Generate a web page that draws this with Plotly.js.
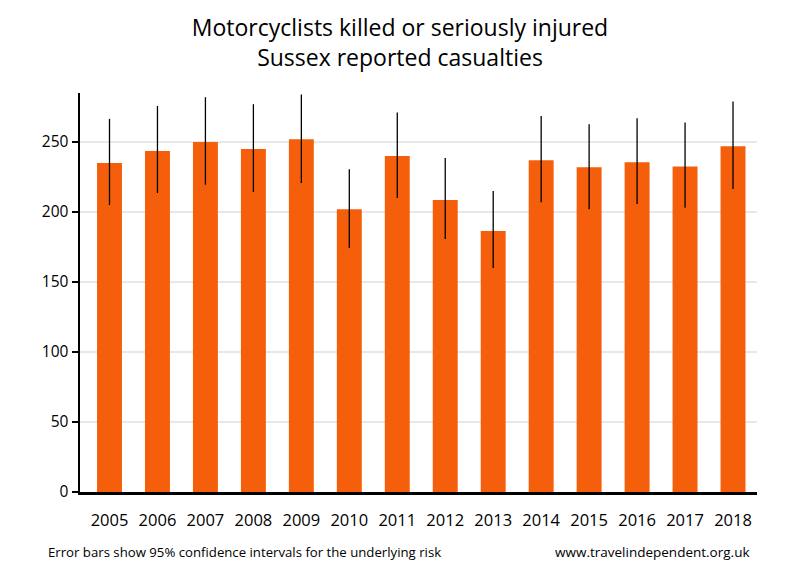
<!DOCTYPE html>
<html>
<head>
<meta charset="utf-8">
<script src="https://cdn.plot.ly/plotly-3.0.1.min.js"></script>
<style>body{margin:0;padding:0;background:#fff;}#chart{width:800px;height:580px;}</style>
</head>
<body>
<div id="chart"></div>
<script>
var years = ['2005','2006','2007','2008','2009','2010','2011','2012','2013','2014','2015','2016','2017','2018'];
var casualties = [235, 243.5, 250, 245, 252, 202, 240, 208.5, 186.5, 237, 232, 235.5, 232.5, 247];
var upperCI = [266.5, 275.7, 282, 277, 284, 230.5, 271, 238.5, 215, 268.5, 262.7, 267, 264, 279];
var lowerCI = [205, 213.6, 219.5, 214.3, 220.7, 174.3, 210, 180.7, 160, 207, 202, 205.7, 203, 216.4];

var plus = upperCI.map(function(u, i){ return u - casualties[i]; });
var minus = casualties.map(function(v, i){ return v - lowerCI[i]; });

var font = 'Open Sans, Noto Sans, sans-serif';

var trace = {
  type: 'bar',
  x: years,
  y: casualties,
  marker: {color: '#f55f0c'},
  error_y: {type: 'data', symmetric: false, array: plus, arrayminus: minus, color: '#000', thickness: 1.3, width: 0},
  hoverinfo: 'none'
};

var layout = {
  width: 800, height: 580,
  margin: {l: 80, r: 43, t: 93, b: 88},
  paper_bgcolor: '#fff', plot_bgcolor: '#fff',
  bargap: 0.48,
  showlegend: false,
  title: {text: 'Motorcyclists killed or seriously injured<br>Sussex reported casualties', x: 0.5, xanchor: 'center', y: 0.938, yanchor: 'top', font: {family: font, size: 23, color: '#000'}},
  xaxis: {
    type: 'category', range: [-0.615, 13.5], showgrid: false, zeroline: false,
    showline: true, linecolor: '#000', linewidth: 2.5, ticks: '',
    tickfont: {family: font, size: 16.5, color: '#000'}, ticklabelstandoff: 12
  },
  yaxis: {
    range: [0, 285], tickvals: [0, 50, 100, 150, 200, 250], showgrid: true, gridcolor: '#e8e8e8', gridwidth: 2,
    zeroline: false, showline: true, linecolor: '#000', linewidth: 2.5, ticks: 'outside', ticklen: 6, tickwidth: 2.5, tickcolor: '#000',
    tickfont: {family: font, size: 15.5, color: '#000'}
  },
  annotations: [
    {text: 'Error bars show 95% confidence intervals for the underlying risk', xref: 'paper', yref: 'paper', x: -0.05, y: -0.15, xanchor: 'left', yanchor: 'middle', showarrow: false, font: {family: font, size: 13.2, color: '#000'}},
    {text: 'www.travelindependent.org.uk', xref: 'paper', yref: 'paper', x: 0.9925, y: -0.15, xanchor: 'right', yanchor: 'middle', showarrow: false, font: {family: font, size: 13.5, color: '#000'}}
  ]
};

Plotly.newPlot('chart', [trace], layout, {staticPlot: true});
</script>
</body>
</html>
